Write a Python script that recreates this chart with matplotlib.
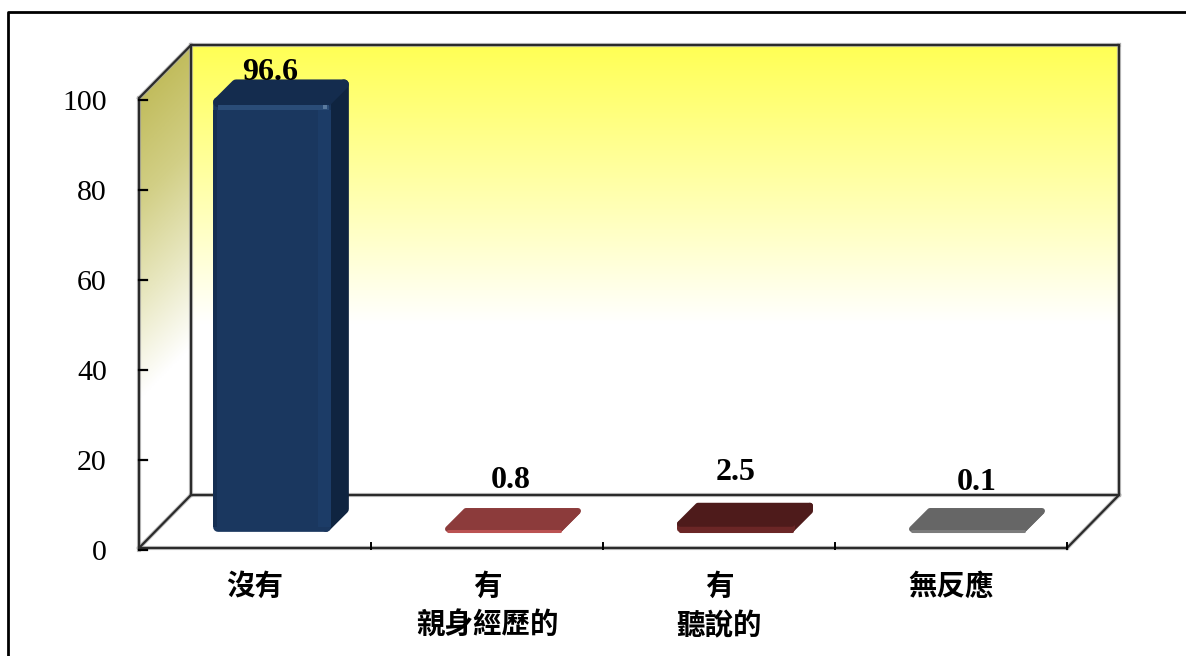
# Bar chart with a fake 3D box, drawn on one full figure axes
import matplotlib
matplotlib.use('Agg')
import matplotlib.pyplot as plt
from matplotlib.colors import LinearSegmentedColormap
from matplotlib.patches import Polygon
import numpy as np

categories = ['沒有', '有\n親身經歷的', '有\n聽說的', '無反應']
values = [96.6, 0.8, 2.5, 0.1]
value_labels = ['96.6', '0.8', '2.5', '0.1']
y_ticks = [0, 20, 40, 60, 80, 100]

front_colors = ['#1a375f', '#bb5252', '#6b2626', '#7c7c7c']
top_colors = ['#142c4e', '#8c3b3b', '#4e1b1b', '#666666']
side_colors = ['#0f2440', '#8c3b3b', '#4e1b1b', '#666666']

# scale of the plot in pixels
PX_CAT = 232.0
PX_VAL = 4.5
X0 = 139.0
Y0 = 549.5
W, H = 1186, 656
WALL_X, WALL_Y = 52.0, 53.0
FLOOR = 1.5 / PX_VAL  # floor line sits a bit above the 0 tick

CJK = ['Noto Sans CJK TC', 'DejaVu Sans']
SERIF = 'Liberation Serif'


def pt(cat, val, dx=0.0, dy=0.0):
    # category/value position, pushed back by dx, dy pixels
    return cat + dx / PX_CAT, val + dy / PX_VAL


def gradient(ax, extent, data, cmap, clip=None):
    im = ax.imshow(data, extent=extent, cmap=cmap, vmin=0, vmax=1, origin='upper',
                   aspect='auto', interpolation='bilinear', zorder=1)
    if clip is not None:
        im.set_clip_path(clip)
    return im


def band(ax, x0, x1, y0, y1, color):
    ax.add_patch(Polygon([(x0, y0), (x1, y0), (x1, y1), (x0, y1)], closed=True,
                         facecolor=color, edgecolor='none', zorder=5))


def draw_bar(ax, i, value):
    depth = 18.0
    tall = value > 20
    inset = 5.0 if tall else 3.0
    lw = 7.0 if tall else 4.3
    px = 1 / PX_CAT
    py = 1 / PX_VAL
    left = i + (213 - X0 + inset) * px
    right = i + (331 - X0 - inset) * px
    bottom = FLOOR + (16 + inset) * py
    top = max(bottom + value - 2 * inset * py, bottom)
    ddx = depth * px
    ddy = depth * py

    front = [(left, bottom), (right, bottom), (right, top), (left, top)]
    side = [(right, bottom), (right + ddx, bottom + ddy), (right + ddx, top + ddy), (right, top)]
    roof = [(left, top), (right, top), (right + ddx, top + ddy), (left + ddx, top + ddy)]
    for pts, col in ((side, side_colors[i]), (front, front_colors[i]), (roof, top_colors[i])):
        ax.add_patch(Polygon(pts, closed=True, facecolor=col, edgecolor=col, linewidth=lw,
                             joinstyle='round', zorder=4))

    if tall:
        # soft shine on the front of the tall bar, kept off the rounded corners
        band(ax, right - 8 * px, right + 5 * px, bottom, top - 8 * py, '#1c3c67')
        band(ax, left, right + 3 * px, top - 8 * py, top - 3 * py, '#2a4c77')
        band(ax, right - 3 * px, right + 1 * px, top - 7 * py, top - 3 * py, '#5a7a9e')
        band(ax, left - 5 * px, left - 1 * px, bottom, top - 8 * py, '#142e52')
    else:
        # thin lighter lip along the front edge
        ax.plot([left, right], [bottom - 1.5 * py, bottom - 1.5 * py], color=front_colors[i],
                lw=2.2, zorder=5, solid_capstyle='round')


fig = plt.figure(figsize=(W / 100, H / 100), dpi=100)
ax = fig.add_axes([0, 0, 1, 1])
ax.set_xlim(-X0 / PX_CAT, (W - X0) / PX_CAT)
ax.set_ylim((Y0 - H) / PX_VAL, Y0 / PX_VAL)
ax.axis('off')

n = len(categories)
wall_top = 100.3

# back wall, yellow fading to white
back_l, back_b = pt(0, FLOOR, WALL_X, WALL_Y)
back_r = pt(n, 0, WALL_X)[0]
back_t = pt(0, wall_top, 0, WALL_Y)[1]
yellow = LinearSegmentedColormap.from_list('yellow', ['#ffff55', '#ffffa8', '#ffffff'])
t = np.linspace(0, 1, 256)
shade = np.clip(t / 0.62, 0, 1).reshape(-1, 1)
gradient(ax, [back_l, back_r, back_b, back_t], shade, yellow)

# left wall, olive fading to white on a diagonal
olive = LinearSegmentedColormap.from_list('olive', ['#c2bd5e', '#d2cf86', '#e8e7c0', '#ffffff'])
wall_pts = [pt(0, FLOOR), pt(0, wall_top), pt(0, wall_top, WALL_X, WALL_Y), pt(0, FLOOR, WALL_X, WALL_Y)]
wall_poly = Polygon(wall_pts, closed=True, facecolor='none', edgecolor='none', zorder=1)
ax.add_patch(wall_poly)
gx, gy = np.meshgrid(np.linspace(0, 1, 80), np.linspace(0, 1, 300))
diag = np.clip((gy * 503 + gx * 52 - 55) / 300, 0, 1)
gradient(ax, [wall_pts[0][0], wall_pts[2][0], wall_pts[0][1], wall_pts[2][1]], diag, olive, clip=wall_poly)

# box edges, a grey halo under a dark line
box_lines = (
    (pt(0, 0), pt(0, wall_top)),
    (pt(0, FLOOR), pt(n, FLOOR)),
    (pt(0, FLOOR), pt(0, FLOOR, WALL_X, WALL_Y)),
    (pt(n, FLOOR), pt(n, FLOOR, WALL_X, WALL_Y)),
    (pt(0, wall_top), pt(0, wall_top, WALL_X, WALL_Y)),
    (pt(0, FLOOR, WALL_X, WALL_Y), pt(n, FLOOR, WALL_X, WALL_Y)),
    (pt(0, FLOOR, WALL_X, WALL_Y), pt(0, wall_top, WALL_X, WALL_Y)),
    (pt(n, FLOOR, WALL_X, WALL_Y), pt(n, wall_top, WALL_X, WALL_Y)),
    (pt(0, wall_top, WALL_X, WALL_Y), pt(n, wall_top, WALL_X, WALL_Y)),
)
for a, b in box_lines:
    ax.plot([a[0], b[0]], [a[1], b[1]], color='#a8a8a8', lw=3.0, zorder=2, alpha=0.7)
    ax.plot([a[0], b[0]], [a[1], b[1]], color='#2b2b2b', lw=1.6, zorder=3, solid_capstyle='round')

# ticks and their labels
for v in y_ticks:
    ax.plot([0, 8 / PX_CAT], [v, v], color='black', lw=1.6, zorder=3)
    ax.text(-32 / PX_CAT, v - 4 / PX_VAL, str(v), ha='right', va='center', family=SERIF,
            fontsize=21.5, color='black')
for c in range(1, n + 1):
    ax.plot([c, c], [FLOOR + 5 / PX_VAL, FLOOR - 1 / PX_VAL], color='black', lw=1.4, zorder=3)

for i, v in enumerate(values):
    draw_bar(ax, i, v)

# value labels sit where the original put them, not exactly on the bars
label_x = [270, 511, 736, 977]
label_y = [72, 480, 473, 482]
for s, lx, ly in zip(value_labels, label_x, label_y):
    ax.text((lx - X0) / PX_CAT, (Y0 - ly) / PX_VAL, s, ha='center', va='center',
            family=SERIF, fontweight='bold', fontsize=23, color='black', zorder=6)

# category labels
for i, c in enumerate(categories):
    ax.text(i + 0.5, (Y0 - 573) / PX_VAL, c, ha='center', va='top', family=CJK, fontweight='bold',
            fontsize=20.5, linespacing=1.49, color='black')

# outer frame, open at the bottom and on the right
ax.plot([8 / W, 8 / W, 1], [0, 1 - 11.5 / H, 1 - 11.5 / H], transform=ax.transAxes,
        color='black', lw=2.0, zorder=7, clip_on=False)

fig.savefig('out.png', dpi=100)
